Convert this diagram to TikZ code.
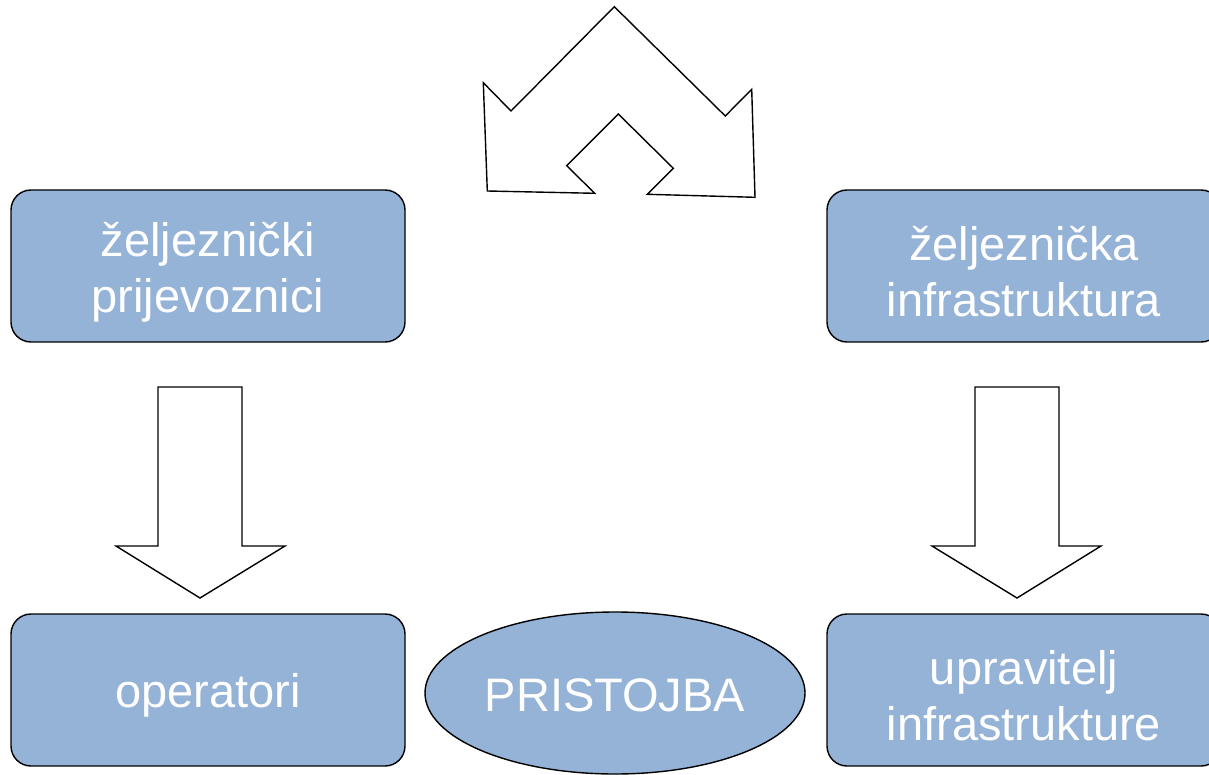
\documentclass[tikz,border=0pt]{standalone}
\usepackage{fontspec}
\setmainfont{Liberation Sans}
\usetikzlibrary{shapes.geometric}
\definecolor{boxblue}{HTML}{95B3D7}
\begin{document}
\begin{tikzpicture}[x=1pt,y=-1pt,
  box/.style={draw=black,line width=1.4pt,fill=boxblue,rounded corners=20pt,
    minimum width=394pt,minimum height=152pt,inner sep=0pt},
  oval/.style={draw=black,line width=1.4pt,fill=boxblue,ellipse,
    minimum width=380pt,minimum height=162pt,inner sep=0pt},
  txt/.style={text=white,align=center,inner sep=0pt,
    font=\fontsize{47}{56}\selectfont},
  blockarrow/.style={draw=black,line width=1.4pt,fill=white,line join=miter}]
\useasboundingbox (0,0) rectangle (1209,775);
\node[box] (tl) at (208,266) {};
\node[box] (tr) at (1024,266) {};
\node[box] (bl) at (208,690) {};
\node[box] (br) at (1024,690) {};
\node[oval] (ps) at (615,693) {};
\node[txt] (tlt) at ([yshift=-6pt]tl.center) {željeznički\\prijevoznici};
\node[txt] (trt) at ([yshift=-6pt]tr.center) {željeznička\\infrastruktura};
\node[txt] (blt) at ([yshift=-5pt]bl.center) {operatori};
\node[txt] (brt) at ([yshift=-6pt]br.center) {upravitelj\\infrastrukture};
\node[txt] (pst) at ([yshift=-2pt]ps.center) {PRISTOJBA};
% left down arrow
\draw[blockarrow] (158,387) -- (242,387) -- (242,546) -- (285,546) -- (200,598)
  -- (116,546) -- (158,546) -- cycle;
% right down arrow
\draw[blockarrow] (975,387) -- (1059,387) -- (1059,546) -- (1101,546) -- (1017,598)
  -- (932,546) -- (975,546) -- cycle;
% top double arrow shape
\draw[blockarrow] (614.3,6.7) -- (725.3,116) -- (751.7,89.3) -- (755,197.3)
  -- (647.3,194.3) -- (673.3,168.3) -- (618.3,114) -- (566.7,165.7)
  -- (594.7,193.3) -- (487.3,191) -- (483.3,82.7) -- (511,111) -- cycle;
\end{tikzpicture}
\end{document}
